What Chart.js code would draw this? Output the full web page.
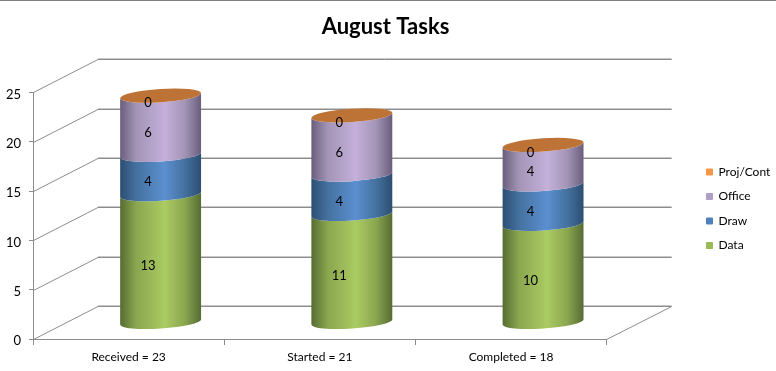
<!DOCTYPE html>
<html>
<head>
<meta charset="utf-8">
<script src="https://cdn.jsdelivr.net/npm/chart.js@4"></script>
<style>
  html, body { margin: 0; padding: 0; background: #fff; }
  #wrap { width: 776px; height: 371px; }
</style>
</head>
<body>
<div id="wrap"><canvas id="tasksChart"></canvas></div>
<script>
const categories = ["Received = 23", "Started = 21", "Completed = 18"];
const dataValues = [13, 11, 10];
const drawValues = [4, 4, 4];
const officeValues = [6, 6, 4];
const projValues = [0, 0, 0];

// depth of the fake 3D box, in pixels
const DEPTH_X = 65;
const DEPTH_Y = 33;
const CYL_X = 32;
const CYL_Y = 16.5;
const TILT = -3.7 * Math.PI / 180;
const RY = 6.6;

// edge / mid / highlight shades of each cylinder
const shades = [
  ["#566c33", "#8aa64f", "#abcb62"],
  ["#2c4e72", "#44719f", "#5b8fd0"],
  ["#6a5e7c", "#a394b6", "#c4b0da"],
  ["#bd7336", "#bd7336", "#bd7336"]
];

function gridLine(ctx, x1, y1, x2, y2, color) {
  ctx.beginPath();
  ctx.moveTo(x1, y1);
  ctx.lineTo(x2, y2);
  ctx.strokeStyle = color;
  ctx.lineWidth = 1;
  ctx.stroke();
}

const box3d = {
  id: "box3d",
  afterLayout(chart) {
    // legend and title sit where Excel puts them, not where the layout does
    const lg = chart.legend;
    const w = lg.right - lg.left;
    lg.left = 694;
    lg.right = 694 + w;
    lg.top = 153.5;
    chart.titleBlock.left = 0;
    chart.titleBlock.right = 771;
  },
  beforeDatasetsDraw(chart) {
    const ctx = chart.ctx;
    const yScale = chart.scales.y;
    const xScale = chart.scales.x;
    const left = xScale.left;
    const right = xScale.right;
    ctx.save();
    // the thin frame line along the top of the picture
    gridLine(ctx, 0, 0.5, chart.width, 0.5, "#808080");
    yScale.ticks.forEach(t => {
      const y = Math.round(yScale.getPixelForValue(t.value));
      gridLine(ctx, left + 0.5, y + 0.5, left + DEPTH_X, y - DEPTH_Y + 0.5, "#8c8c8c");
      gridLine(ctx, left + DEPTH_X, y - DEPTH_Y - 0.5, left + DEPTH_X + (right - left), y - DEPTH_Y - 0.5, "#c8c8c8");
      gridLine(ctx, left + DEPTH_X, y - DEPTH_Y + 0.5, left + DEPTH_X + (right - left), y - DEPTH_Y + 0.5, "#8c8c8c");
    });
    const y0 = Math.round(yScale.getPixelForValue(0));
    gridLine(ctx, right, y0 + 0.5, right + DEPTH_X, y0 - DEPTH_Y + 0.5, "#8c8c8c");

    // cylinders, bottom segment first
    chart.data.datasets.forEach((ds, d) => {
      chart.getDatasetMeta(d).data.forEach((bar) => {
        const cx = bar.x + CYL_X;
        const rx = bar.width / 2;
        const g = ctx.createLinearGradient(cx - rx, 0, cx + rx, 0);
        g.addColorStop(0, shades[d][0]);
        g.addColorStop(0.2, shades[d][1]);
        g.addColorStop(0.55, shades[d][2]);
        g.addColorStop(0.8, shades[d][1]);
        g.addColorStop(1, shades[d][0]);
        ctx.beginPath();
        ctx.ellipse(cx, bar.base - CYL_Y, rx, RY, TILT, 0, Math.PI);
        ctx.ellipse(cx, bar.y - CYL_Y, rx, RY, TILT, Math.PI, 0, true);
        ctx.closePath();
        ctx.fillStyle = g;
        ctx.fill();
      });
    });
    // top cap of each stack takes the colour of the last series
    const last = chart.data.datasets.length - 1;
    chart.getDatasetMeta(last).data.forEach((bar) => {
      ctx.beginPath();
      ctx.ellipse(bar.x + CYL_X, bar.y - CYL_Y, bar.width / 2, RY, TILT, 0, Math.PI * 2);
      ctx.fillStyle = shades[last][2];
      ctx.fill();
    });
    ctx.restore();
  },
  beforeDatasetDraw() {
    return false;
  },
  afterDatasetsDraw(chart) {
    const ctx = chart.ctx;
    ctx.save();
    ctx.font = "13px Lato";
    ctx.fillStyle = "#000";
    ctx.textAlign = "center";
    ctx.textBaseline = "middle";
    chart.data.datasets.forEach((ds, d) => {
      chart.getDatasetMeta(d).data.forEach((bar, i) => {
        ctx.fillText(ds.data[i], bar.x + 19.5, (bar.y + bar.base) / 2 - 9);
      });
    });
    ctx.restore();
  }
};

new Chart(document.getElementById("tasksChart"), {
  type: "bar",
  plugins: [box3d],
  data: {
    labels: categories,
    datasets: [
      { label: "Data", data: dataValues, backgroundColor: "#9bbb59", borderColor: "#9bbb59", borderWidth: 1 },
      { label: "Draw", data: drawValues, backgroundColor: "#4f81bd", borderColor: "#4f81bd", borderWidth: 1 },
      { label: "Office", data: officeValues, backgroundColor: "#af9fc5", borderColor: "#af9fc5", borderWidth: 1 },
      { label: "Proj/Cont", data: projValues, backgroundColor: "#f79646", borderColor: "#f79646", borderWidth: 1 }
    ]
  },
  options: {
    responsive: true,
    maintainAspectRatio: false,
    animation: false,
    layout: { autoPadding: false, padding: { left: 0, right: 83, top: 0, bottom: 0 } },
    datasets: { bar: { categoryPercentage: 1, barPercentage: 0.424 } },
    scales: {
      x: {
        stacked: true,
        afterFit(s) { s.height = 32; },
        grid: { offset: true, drawOnChartArea: false, tickLength: 6, color: "#8c8c8c" },
        border: { color: "#8c8c8c" },
        ticks: { color: "#000", padding: 5, maxRotation: 0, font: { family: "Lato", size: 12 } }
      },
      y: {
        stacked: true,
        min: 0,
        max: 25,
        afterFit(s) { s.width = 33; },
        grid: { drawOnChartArea: false, tickLength: 4, color: "#8c8c8c" },
        border: { color: "#8c8c8c" },
        ticks: { stepSize: 5, color: "#000", padding: 8, labelOffset: 2, font: { family: "Lato", size: 13 } }
      }
    },
    plugins: {
      tooltip: { enabled: false },
      title: {
        display: true,
        text: "August Tasks",
        color: "#000",
        font: { family: "Lato", size: 22, weight: "bold" },
        padding: { top: 14, bottom: 52 }
      },
      legend: {
        position: "right",
        reverse: true,
        align: "start",
        labels: { boxWidth: 6, boxHeight: 6, padding: 12.5, color: "#000", font: { family: "Lato", size: 12 } }
      }
    }
  }
});
</script>
</body>
</html>
